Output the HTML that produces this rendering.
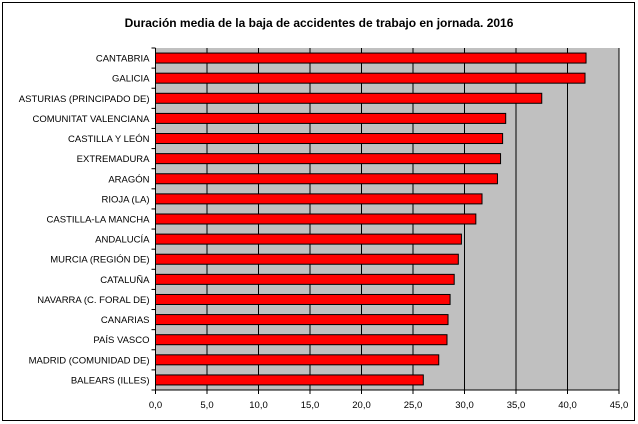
<!DOCTYPE html>
<html><head><meta charset="utf-8"><style>
body{margin:0;background:#fff}
svg{display:block;font-family:"Liberation Sans",Arial,sans-serif}
</style></head><body>
<svg width="638" height="424">
<rect x="2.5" y="2.5" width="632" height="418" fill="#fff" stroke="#000"/>
<text x="319" y="27" text-anchor="middle" font-size="12" font-weight="bold">Duración media de la baja de accidentes de trabajo en jornada. 2016</text>
<g id="plot"></g>
</svg>
<script>
const categories=["CANTABRIA","GALICIA","ASTURIAS (PRINCIPADO DE)","COMUNITAT VALENCIANA","CASTILLA Y LEÓN","EXTREMADURA","ARAGÓN","RIOJA (LA)","CASTILLA-LA MANCHA","ANDALUCÍA","MURCIA (REGIÓN DE)","CATALUÑA","NAVARRA (C. FORAL DE)","CANARIAS","PAÍS VASCO","MADRID (COMUNIDAD DE)","BALEARS (ILLES)"];
const values=[41.8,41.7,37.5,34.0,33.7,33.5,33.2,31.7,31.1,29.7,29.4,29.0,28.6,28.4,28.3,27.5,26.0];
const ticks=[0,5,10,15,20,25,30,35,40,45];
const tickLabels=["0,0","5,0","10,0","15,0","20,0","25,0","30,0","35,0","40,0","45,0"];
const NS="http://www.w3.org/2000/svg";
const g=document.getElementById('plot');
const L=155.5,R=619,T=48,B=390;
const x=v=>L+(v-0)/(45-0)*(R-L);
const band=(B-T)/categories.length;
const y=i=>T+band*i+band/2;
function mk(t,a){const e=document.createElementNS(NS,t);for(const k in a)e.setAttribute(k,a[k]);g.appendChild(e);return e;}
let bg=mk('rect',{x:L,y:T,width:R-L,height:B-T,fill:'#c0c0c0'});


ticks.forEach((t,i)=>{
  if(i>0){let gl=mk('line',{x1:x(t),x2:x(t),y1:T,y2:B,stroke:'#000'});
  
  }
  let tk=mk('line',{x1:x(t),x2:x(t),y1:B,y2:B+4,stroke:'#000'});
  
  
  let tl=mk('text',{x:x(t),y:B+18,'text-anchor':'middle','font-size':'9.5'});
  tl.textContent=tickLabels[i];
  
  
});
for(let i=0;i<=categories.length;i++){
  let tk=mk('line',{x1:L-4,x2:L,y1:T+band*i,y2:T+band*i,stroke:'#000'});
  
  
}
let ya=mk('line',{x1:L,x2:L,y1:T,y2:B,stroke:'#000'});


let xa=mk('line',{x1:L,x2:R,y1:B,y2:B,stroke:'#000'});


categories.forEach((c,i)=>{
  let b=mk('rect',{x:L,y:y(i)-5,width:x(values[i])-L,height:10,fill:'#ff0000',stroke:'#000','stroke-width':1});
  
  
  let t=mk('text',{x:L-6,y:y(i)+3.5,'text-anchor':'end','font-size':'9.5'});
  t.textContent=c;
  
  
});
</script>
</body></html>
